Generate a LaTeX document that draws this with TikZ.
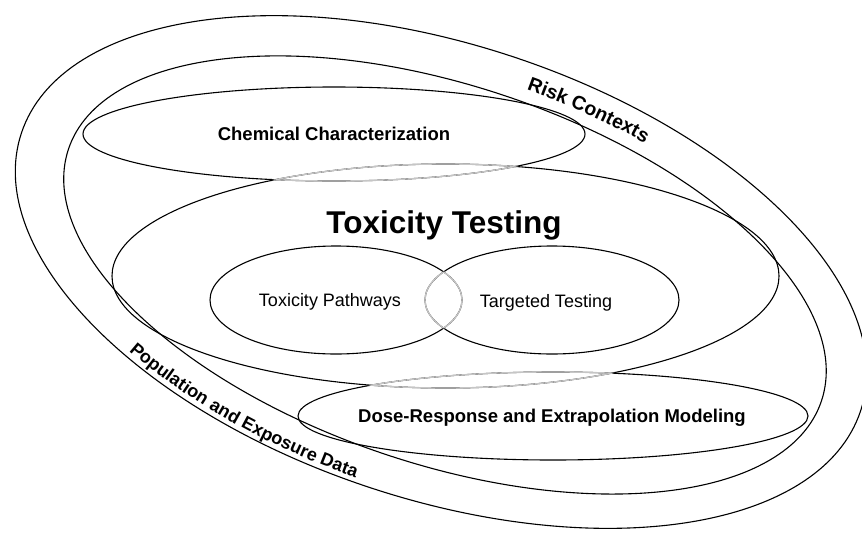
\documentclass[tikz,border=0pt]{standalone}
\usepackage{fontspec}
\setmainfont{Liberation Sans}
\usetikzlibrary{positioning,decorations.text}

\begin{document}
\begin{tikzpicture}
  [
    x=1pt, y=-1pt,
    outline/.style={draw, line width=1.1pt},
    overlap/.style={draw=gray!45, line width=1.3pt},
    set label/.style={font=\bfseries\fontsize{18.5}{22}\selectfont},
    sub label/.style={font=\fontsize{18}{22}\selectfont},
    chem size/.style={x radius=251, y radius=47},
    tox size/.style={x radius=333.5, y radius=112},
    dose size/.style={x radius=255, y radius=44},
    path size/.style={x radius=126, y radius=54},
    target size/.style={x radius=127, y radius=54},
  ]
  \useasboundingbox (0,0) rectangle (862,533);

  \coordinate (outer) at (441,272);
  \coordinate (inner) at (445,275);
  \coordinate (band) at (442,275);
  \coordinate (chem) at (334,134);
  \coordinate (tox) at (445.5,276);
  \coordinate (dose) at (553,416);
  \coordinate (path) at (336,300);
  \coordinate (target) at (552,300);

  % the ring
  \draw[outline, rotate around={-18.3:(outer)}] (outer) ellipse [x radius=442, y radius=227];
  \draw[outline, rotate around={-18.5:(inner)}] (inner) ellipse [x radius=397, y radius=189];

  % the sets
  \draw[outline] (chem) ellipse [chem size];
  \draw[outline] (tox) ellipse [tox size];
  \draw[outline] (dose) ellipse [dose size];
  \draw[outline] (path) ellipse [path size];
  \draw[outline] (target) ellipse [target size];

  % overlaps drawn grey
  \begin{scope}
    \clip (chem) ellipse [chem size];
    \draw[overlap] (tox) ellipse [tox size];
  \end{scope}
  \begin{scope}
    \clip (tox) ellipse [tox size];
    \draw[overlap] (chem) ellipse [chem size];
  \end{scope}
  \begin{scope}
    \clip (dose) ellipse [dose size];
    \draw[overlap] (tox) ellipse [tox size];
  \end{scope}
  \begin{scope}
    \clip (tox) ellipse [tox size];
    \draw[overlap] (dose) ellipse [dose size];
  \end{scope}
  \begin{scope}
    \clip (path) ellipse [path size];
    \draw[overlap] (target) ellipse [target size];
  \end{scope}
  \begin{scope}
    \clip (target) ellipse [target size];
    \draw[overlap] (path) ellipse [path size];
  \end{scope}

  \node (chemtext) [set label] at (chem) {Chemical Characterization};
  \node (toxtext) [font=\bfseries\fontsize{31.5}{36}\selectfont, anchor=base] at (444,233) {Toxicity Testing};
  \node (pathtext) [sub label, anchor=base] at (330,306) {Toxicity Pathways};
  \node (targettext) [sub label, anchor=base] at (546,307) {Targeted Testing};
  \node (dosetext) [set label, anchor=base] at (552,422) {Dose-Response and Extrapolation Modeling};

  % texts in the ring
  \path[rotate around={-18.4:(band)}, decorate,
    decoration={text along path, text={|\bfseries\fontsize{19.5}{22}\selectfont|Risk Contexts}}]
    (band) ++(-87:414 and 203) arc[start angle=-87, end angle=-10, x radius=414, y radius=203];
  \path[rotate around={-18.4:(band)}, decorate,
    decoration={text along path, text={|\bfseries\fontsize{18}{22}\selectfont|Population and Exposure Data}}]
    (band) ++(129:434 and 220) arc[start angle=129, end angle=30, x radius=434, y radius=220];
\end{tikzpicture}
\end{document}
